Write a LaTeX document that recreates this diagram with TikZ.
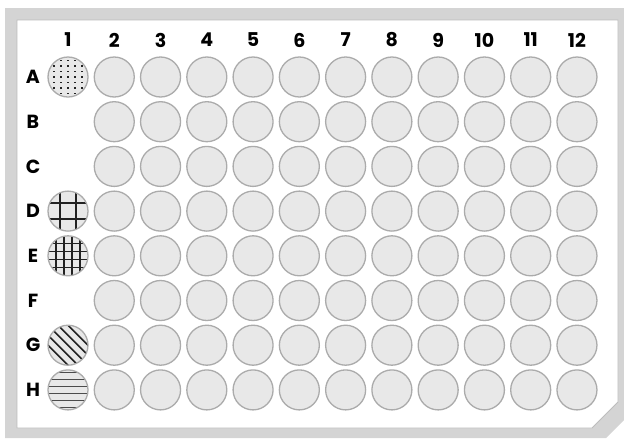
\documentclass[tikz,border=0pt]{standalone}
\usepackage{fontspec}
\newfontfamily\platefont{Poppins}
\definecolor{rimgray}{HTML}{D4D4D4}
\definecolor{rimline}{HTML}{BDBDBD}
\definecolor{wellfill}{HTML}{E8E8E8}
\definecolor{wellline}{HTML}{ABABAB}
\definecolor{inkgray}{HTML}{222222}

\begin{document}
\begin{tikzpicture}[x=1pt,y=-1pt,
 well/.style={circle,draw=wellline,fill=wellfill,line width=1.3pt,minimum size=40pt,inner sep=0pt},
 lbl/.style={font=\platefont\bfseries\fontsize{19}{19}\selectfont,text=black},
 ink/.style={draw=inkgray,line width=1.3pt},
 dotwell/.style={well,path picture={
   \foreach \dx in {-14,-7,...,14} \foreach \dy in {-16.5,-11,...,16.5}
    \fill[inkgray] ([shift={(\dx-0.9,\dy-0.6)}]path picture bounding box.center) rectangle ++(1.8,1.2);}},
 gridwell/.style={well,path picture={
   \foreach \d in {#1} {
    \draw[ink] ([shift={(\d,-22)}]path picture bounding box.center) -- ++(0,44);
    \draw[ink] ([shift={(-22,\d)}]path picture bounding box.center) -- ++(44,0);}}},
 slantwell/.style={well,path picture={
   \foreach \k in {-3,...,3}
    \draw[ink,line width=1.5pt] ([shift={(5*\k-25,-5*\k-25)}]path picture bounding box.center) -- ++(50,50);}},
 stripewell/.style={well,path picture={
   \foreach \d in {-17.5,-10.5,...,17.5}
    \draw[draw=black!70,line width=1.6pt] ([shift={(-22,\d)}]path picture bounding box.center) -- ++(44,0);}}]
\useasboundingbox (0,0) rectangle (624,440);
% plate rim and deck
\fill[rimgray] (5,8) -- (624,8) -- (624,420) -- (606,438) -- (5,438) -- cycle;
\filldraw[fill=white,draw=rimline,line width=0.8pt] (17,20) -- (618,20) -- (618,402) -- (592,428) -- (17,428) -- cycle;
% column and row labels
\foreach \c in {1,...,12}
 \node[lbl] (col\c) at ({68+46.27*(\c-1)},40) {\c};
\foreach \r [count=\i from 0] in {A,B,C,D,E,F,G,H}
 \node[lbl] (row\r) at (33,{77+44.7*\i}) {\r};
% plain wells
\foreach \r [count=\i from 0] in {A,B,C,D,E,F,G,H}
 \foreach \c in {2,...,12}
  \node[well] (w\r\c) at ({68+46.27*(\c-1)},{77+44.7*\i}) {};
% patterned wells in column 1
\node[dotwell] (wA1) at (68,77) {};
\node[gridwell={-8,8}] (wD1) at (68,{77+44.7*3}) {};
\node[gridwell={-12,-4,4,12}] (wE1) at (68,{77+44.7*4}) {};
\node[slantwell] (wG1) at (68,{77+44.7*6}) {};
\node[stripewell] (wH1) at (68,{77+44.7*7}) {};
\end{tikzpicture}
\end{document}
